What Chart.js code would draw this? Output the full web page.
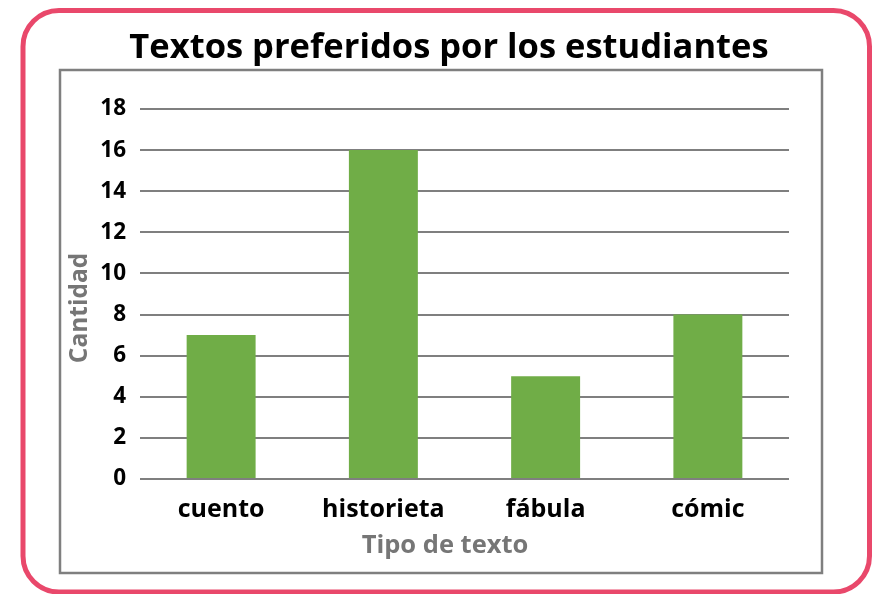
<!DOCTYPE html>
<html lang="es">
	<head>
		<meta charset="UTF-8" />
		<script src="https://cdn.jsdelivr.net/npm/chart.js@4.4.1/dist/chart.umd.min.js"></script>
		<title>Textos preferidos</title>
		<style>
			body { margin: 0; background: #fff; }
			#wrap { width: 872px; height: 594px; }
		</style>
	</head>

	<body>
		<div id="wrap"><canvas id="myChart"></canvas></div>
		<script>
			const tipos = ['cuento', 'historieta', 'fábula', 'cómic'];
			const cantidad = [7, 16, 5, 8];
			const yTicks = [0, 2, 4, 6, 8, 10, 12, 14, 16, 18];
			const titulo = 'Textos preferidos por los estudiantes';
			const tituloX = 'Tipo de texto';
			const tituloY = 'Cantidad';

			const FONT = "'Open Sans', sans-serif";
			const GRAY = '#7f7f7f';

			// pink rounded card, grey inner box, and the three titles
			const marco = {
				id: 'marco',
				beforeDraw(chart) {
					const ctx = chart.ctx;
					ctx.save();
					ctx.fillStyle = '#fff';
					ctx.fillRect(0, 0, chart.width, chart.height);
					ctx.strokeStyle = '#e9486b';
					ctx.lineWidth = 5;
					ctx.beginPath();
					ctx.roundRect(23, 10.5, 846.5, 581.5, 36);
					ctx.stroke();
					ctx.strokeStyle = GRAY;
					ctx.lineWidth = 2.5;
					ctx.strokeRect(60, 70, 762, 503);
					ctx.restore();
				},
				afterDraw(chart) {
					const ctx = chart.ctx;
					ctx.save();
					ctx.textAlign = 'center';
					ctx.textBaseline = 'alphabetic';
					ctx.fillStyle = '#000';
					ctx.font = 'bold 34.5px ' + FONT;
					ctx.fillText(titulo, 449, 58);
					ctx.fillStyle = '#767676';
					ctx.font = 'bold 25.5px ' + FONT;
					ctx.fillText(tituloX, 445, 553);
					ctx.font = 'bold 24.5px ' + FONT;
					ctx.translate(87, 308);
					ctx.rotate(-Math.PI / 2);
					ctx.fillText(tituloY, 0, 0);
					ctx.restore();
				}
			};

			const ctx = document.getElementById('myChart').getContext('2d');
			const myChart = new Chart(ctx, {
				type: 'bar',
				data: {
					labels: tipos,
					datasets: [
						{
							label: 'Cantidad',
							data: cantidad,
							backgroundColor: '#70ad47',
							borderWidth: 0,
							barPercentage: 0.85,
							categoryPercentage: 0.5
						}
					]
				},
				options: {
					responsive: true,
					maintainAspectRatio: false,
					animation: false,
					layout: { padding: { left: 60, right: 83, top: 109, bottom: 24 } },
					plugins: {
						legend: { display: false },
						tooltip: { enabled: false }
					},
					scales: {
						x: {
							grid: { display: false },
							border: { display: false },
							ticks: {
								color: '#000',
								padding: 8,
								font: { family: FONT, size: 25, weight: 'bold' }
							},
							afterFit(scale) { scale.height = 91; }
						},
						y: {
							min: 0,
							max: 18,
							afterBuildTicks(scale) {
								scale.ticks = yTicks.map(v => ({ value: v }));
							},
							grid: { color: GRAY, lineWidth: 2, drawTicks: false },
							border: { display: false },
							ticks: {
								color: '#000',
								padding: 14,
								font: { family: FONT, size: 22.5, weight: 'bold' }
							},
							afterFit(scale) { scale.width = 80; }
						}
					}
				},
				plugins: [marco]
			});
		</script>
	</body>
</html>
